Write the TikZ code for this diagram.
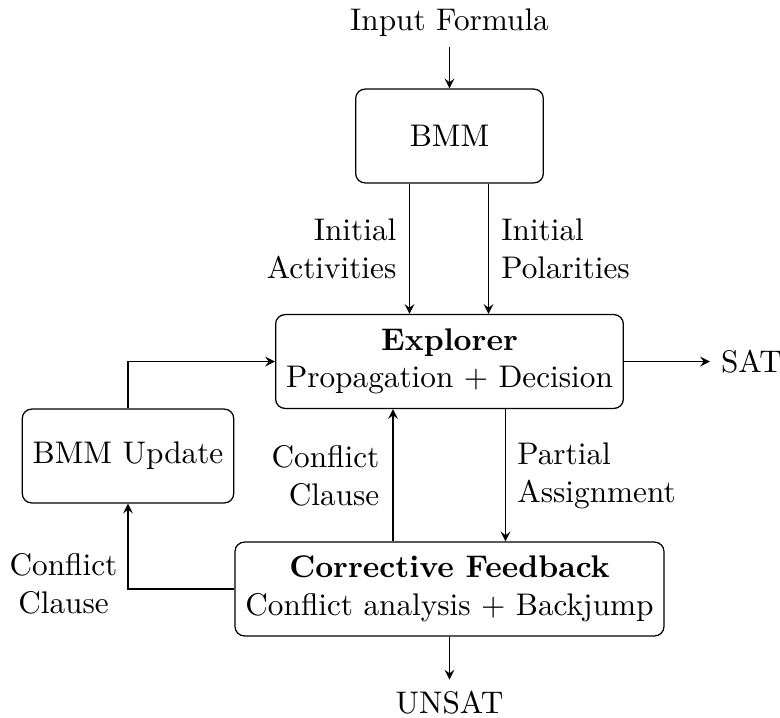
\documentclass[tikz,border=0pt]{standalone}
\usetikzlibrary{arrows.meta,calc}
\begin{document}
\begin{tikzpicture}[x=0.3198pt,y=-0.3198pt,
  box/.style={draw, rounded corners=3pt, minimum height=30pt, align=center, inner sep=3.33pt},
  arr/.style={-stealth}]
\useasboundingbox (0,0) rectangle (780,717);
% boxes
\node[box, minimum width=60pt] (bmm) at (449.5,136) {BMM};
\node[box] (exp) at (449.5,361.5) {\textbf{Explorer}\\Propagation + Decision};
\node[box] (upd) at (128,456) {BMM Update};
\node[box] (cf) at (449.5,589) {\textbf{Corrective Feedback}\\Conflict analysis + Backjump};
% terminals
\node[anchor=base] (in) at (449.5,30) {Input Formula};
\node[anchor=west] (sat) at (710,361.5) {SAT};
\node[anchor=base] (unsat) at (449.5,713) {UNSAT};
% connectors
\draw[arr] (in.south) -- (bmm.north);
\draw[arr] ($(bmm.south)+(-40,0)$) -- ($(exp.north)+(-40,0)$);
\draw[arr] ($(bmm.south)+(39,0)$) -- ($(exp.north)+(39,0)$);
\draw[arr] (exp.east) -- (sat.west);
\draw[arr] ($(exp.south)+(56,0)$) -- ($(cf.north)+(56,0)$);
\draw[arr] ($(cf.north)+(-56.5,0)$) -- ($(exp.south)+(-56.5,0)$);
\draw[arr] (cf.south) -- (unsat.north);
\draw[arr] (cf.west) -| (upd.south);
\draw[arr] (upd.north) |- (exp.west);
% labels
\node[anchor=east, align=right] (la) at (407.4,249) {Initial\\Activities};
\node[anchor=west, align=left] (lp) at (490.3,249) {Initial\\Polarities};
\node[anchor=east, align=right] (lc) at (390.4,475.6) {Conflict\\Clause};
\node[anchor=west, align=left] (lpa) at (506.3,475.7) {Partial\\Assignment};
\node[align=center] (lc2) at (63.5,584) {Conflict\\Clause};
\end{tikzpicture}
\end{document}
